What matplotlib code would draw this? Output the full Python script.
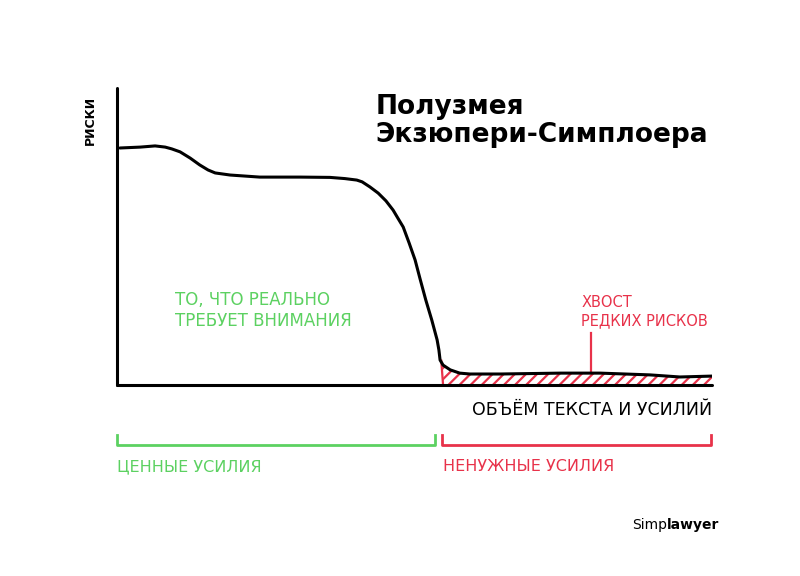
import matplotlib
matplotlib.use("Agg")
import matplotlib.pyplot as plt

# ---- data (x: volume of text/effort, y: risk) ----
curve_x = [0.5, 3.9, 6.4, 8.1, 9.2, 10.6, 12.3, 13.9, 15.3, 16.5, 19.0, 24.0,
           30.8, 35.8, 38.3, 40.3, 41.2, 42.5, 43.9, 45.2, 46.4, 47.2, 48.1,
           49.1, 50.1, 50.9, 51.9, 52.9, 53.8, 54.1, 54.3, 54.8, 56.0, 57.6,
           59.3, 64.4, 74.5, 81.2, 89.6, 94.6, 100.0]
curve_y = [79.8, 80.1, 80.5, 80.1, 79.5, 78.5, 76.4, 74.1, 72.4, 71.4, 70.7, 70.0,
           70.0, 69.9, 69.5, 69.0, 68.4, 66.7, 64.6, 62.0, 58.9, 56.2, 53.2,
           47.8, 42.1, 36.0, 28.6, 21.9, 15.2, 11.8, 8.4, 6.7, 5.1, 4.0,
           3.7, 3.7, 4.0, 4.0, 3.4, 2.7, 3.0]

tail_start = 54.8          # where the "rare risks" tail begins
pointer_x = 79.7           # tail label pointer
valuable = (0.0, 53.4)     # green bracket
useless = (54.6, 99.8)     # red bracket

title = "Полузмея\nЭкзюпери-Симплоера"
ylabel = "РИСКИ"
xlabel = "ОБЪЁМ ТЕКСТА И УСИЛИЙ"
green_note = "ТО, ЧТО РЕАЛЬНО\nТРЕБУЕТ ВНИМАНИЯ"
red_note = "ХВОСТ\nРЕДКИХ РИСКОВ"
green_label = "ЦЕННЫЕ УСИЛИЯ"
red_label = "НЕНУЖНЫЕ УСИЛИЯ"

GREEN = "#5cd161"
RED = "#e8324a"

fig = plt.figure(figsize=(8, 5.76), dpi=100)
fig.patch.set_facecolor("white")
ax = fig.add_axes([117 / 800, 1 - 385 / 576, 595 / 800, 297 / 576])
ax.set_xlim(0, 100)
ax.set_ylim(0, 100)
for s in ("top", "right"):
    ax.spines[s].set_visible(False)
for s in ("left", "bottom"):
    ax.spines[s].set_linewidth(2.2)
    ax.spines[s].set_capstyle("round")
ax.set_xticks([]); ax.set_yticks([])

# main curve
ax.plot(curve_x, curve_y, color="black", lw=2.2, solid_joinstyle="round",
        solid_capstyle="round", zorder=3)

# hatched tail
tx = [x for x in curve_x if x >= tail_start]
ty = [y for x, y in zip(curve_x, curve_y) if x >= tail_start]
plt.rcParams["hatch.linewidth"] = 1.6
ax.fill_between(tx, 0, ty, facecolor="none", edgecolor=RED, hatch="///", lw=0, zorder=2)
ax.plot([tail_start - 0.3, tail_start], [ty[0] + 1.5, 0], color=RED, lw=1.6, zorder=2)
ax.plot([pointer_x, pointer_x], [17.5, 4.0], color=RED, lw=1.6, zorder=2)

# texts inside the plot
ax.text(43.4, 98, title, fontsize=19, fontweight="bold", va="top", ha="left",
        linespacing=1.1)
ax.text(-4.5, 89, ylabel, fontsize=9, fontweight="bold", rotation=90,
        ha="center", va="center")
ax.text(9.7, 25, green_note, color=GREEN, fontsize=12, ha="left", va="center",
        linespacing=1.2)
ax.text(78, 24.8, red_note, color=RED, fontsize=10.5, ha="left", va="center",
        linespacing=1.3)
ax.text(100, -8.4, xlabel, fontsize=12.5, ha="right", va="center", clip_on=False)

# brackets under the axis
for (x0, x1), c in ((valuable, GREEN), (useless, RED)):
    ax.plot([x0, x0, x1, x1], [-16.8, -20.2, -20.2, -16.8], color=c, lw=2,
            clip_on=False, solid_joinstyle="round")
ax.text(valuable[0], -27.6, green_label, color=GREEN, fontsize=11.5,
        ha="left", va="center", clip_on=False)
ax.text(useless[0] + 0.2, -27.6, red_label, color=RED, fontsize=11.5,
        ha="left", va="center", clip_on=False)

# signature
simp = fig.text(632 / 800, 1 - 525 / 576, "Simp", fontsize=10, ha="left", va="center")
ax.annotate("lawyer", xy=(1, 0.5), xycoords=simp, fontsize=10, fontweight="bold",
            ha="left", va="center", annotation_clip=False)

fig.savefig("out.png", dpi=100, facecolor="white")
